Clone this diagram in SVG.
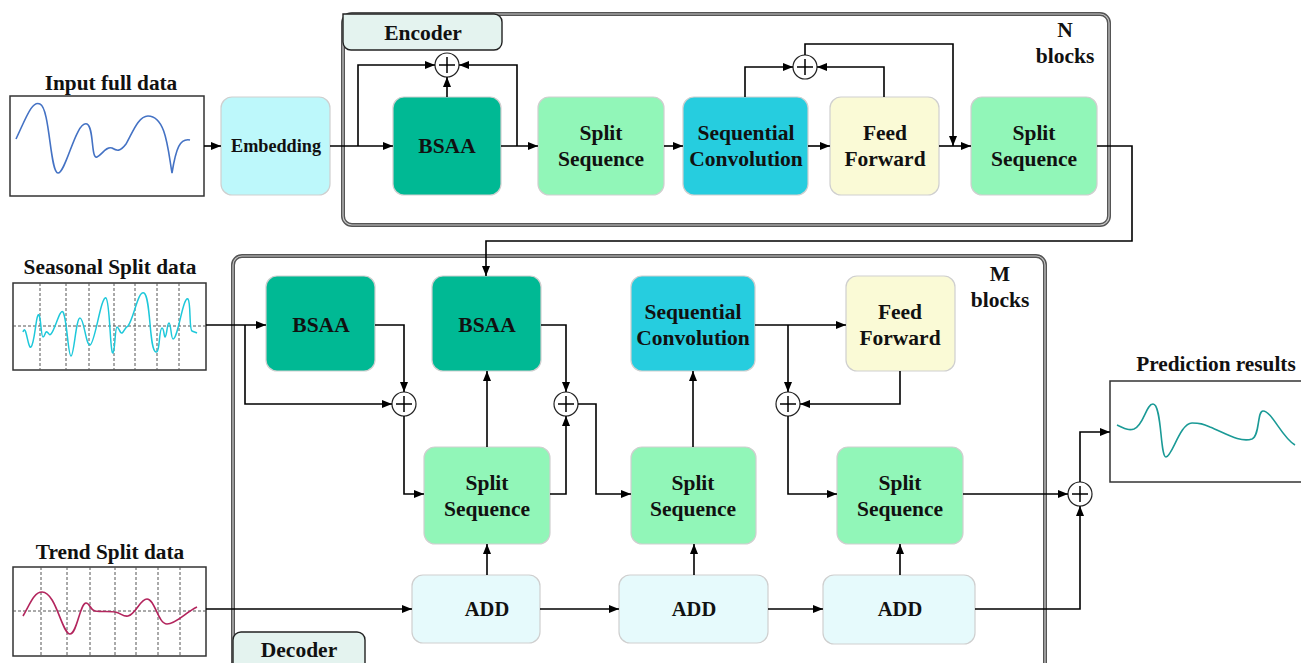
<svg xmlns="http://www.w3.org/2000/svg" width="1301" height="663" viewBox="0 0 1301 663">
<defs>
<marker id="ah" markerWidth="10" markerHeight="8" refX="10" refY="4" orient="auto" markerUnits="userSpaceOnUse">
<path d="M0,0 L10,4 L0,8 Z" fill="#000"/>
</marker>
<style>
.t{font-size:21.5px}
.ti{font-size:21.3px}
.ad{font-size:20.5px}
.node{stroke:#cfcfcf;stroke-width:1.2}
.bsaa{fill:#00b994}
.split{fill:#91f6b8}
.conv{fill:#26cddf}
.ff{fill:#fafad6}
.add{fill:#e6fafc}
.emb{fill:#bdf8fb}
.a{fill:none;stroke:#000;stroke-width:1.6;marker-end:url(#ah)}
.plus{fill:#fff;stroke:#222;stroke-width:1.2}
.pl{stroke:#000;stroke-width:1.5}
.frame{fill:none;stroke:#555;stroke-width:4}
.frame2{fill:none;stroke:#c8c8c8;stroke-width:1.2}
.box{fill:#fff;stroke:#333;stroke-width:1.5}
.dash{stroke:#555;stroke-width:1;stroke-dasharray:3,2}
</style>
</defs>

<g font-family="'Liberation Serif', 'Times New Roman', serif" font-weight="bold" text-anchor="middle" fill="#111">
<!-- frames -->
<g id="encoder-frame">
<rect class="frame" x="343" y="14" width="766" height="211" rx="9"/>
<rect class="frame2" x="343" y="14" width="766" height="211" rx="9"/>
<path d="M343,14 H494 a8,8 0 0 1 8,8 V42 a8,8 0 0 1 -8,8 H351 a8,8 0 0 1 -8,-8 Z" fill="#e4f3ef" stroke="#222" stroke-width="1.4"/>
<text class="t" x="423" y="40">Encoder</text>
<text class="t" x="1065" y="37">N</text>
<text class="t" x="1065" y="63">blocks</text>
</g>
<g id="decoder-frame">
<rect class="frame" x="233" y="256" width="812" height="430" rx="9"/>
<rect class="frame2" x="233" y="256" width="812" height="430" rx="9"/>
<path d="M233,640 a8,8 0 0 1 8,-8 H357 a8,8 0 0 1 8,8 V670 H233 Z" fill="#e4f3ef" stroke="#222" stroke-width="1.4"/>
<text class="t" x="299" y="657">Decoder</text>
<text class="t" x="1000" y="281">M</text>
<text class="t" x="1000" y="307">blocks</text>
</g>

<!-- data charts -->
<g id="input-data">
<text class="ti" x="111" y="90">Input full data</text>
<rect class="box" x="10" y="96" width="194" height="100"/>
<path d="M16,139 C26,118 32,100 40,104 C50,108 50,173 58,173 C66,173 76,120 87,124 C94,127 91,160 97,157 C102,155 106,146 112,148 C117,151 120,152 126,144 C132,134 138,116 148,116 C166,116 168,150 172,173 C176,148 180,138 190,140" fill="none" stroke="#4472c4" stroke-width="1.6"/>
</g>

<g id="seasonal-data">
<text class="ti" x="110" y="274">Seasonal Split data</text>
<rect class="box" x="13" y="283" width="193" height="87"/>
<g class="dash">
<line x1="40" y1="283" x2="40" y2="370"/><line x1="66" y1="283" x2="66" y2="370"/><line x1="89" y1="283" x2="89" y2="370"/>
<line x1="114" y1="283" x2="114" y2="370"/><line x1="135" y1="283" x2="135" y2="370"/><line x1="157" y1="283" x2="157" y2="370"/>
<line x1="179" y1="283" x2="179" y2="370"/><line x1="13" y1="326" x2="206" y2="326"/>
</g>
<path d="M23,332 C26,322 28,350 31,347 C35,343 36,312 39,315 C41,318 41,337 43,337 C45,337 45,331 47,332 C49,333 49,336 51,334 C55,330 60,308 63,312 C67,318 68,356 71,356 C74,356 76,318 80,318 C84,318 86,346 90,345 C95,344 101,295 106,298 C110,301 110,354 113,353 C115,352 115,327 117,327 C119,327 120,334 122,333 C124,332 125,327 128,326 C134,318 138,290 144,293 C151,297 149,351 156,352 C160,353 159,328 162,328 C164,328 164,337 165,337 C167,336 167,323 169,323 C171,323 171,339 173,339 C178,339 183,296 188,299 C191,302 189,330 192,331 C194,332 195,332 197,333" fill="none" stroke="#1ec8da" stroke-width="1.5"/>
</g>

<g id="trend-data">
<text class="ti" x="110" y="559">Trend Split data</text>
<rect class="box" x="13" y="567" width="193" height="89"/>
<g class="dash">
<line x1="41" y1="567" x2="41" y2="656"/><line x1="67" y1="567" x2="67" y2="656"/><line x1="90" y1="567" x2="90" y2="656"/>
<line x1="115" y1="567" x2="115" y2="656"/><line x1="136" y1="567" x2="136" y2="656"/><line x1="158" y1="567" x2="158" y2="656"/>
<line x1="180" y1="567" x2="180" y2="656"/><line x1="13" y1="611" x2="206" y2="611"/>
</g>
<path d="M23,616 C30,604 34,592 42,592 C56,592 62,634 70,634 C77,634 80,603 86,603 C90,603 90,610 95,611 C102,612 110,611 115,612 C121,613 123,617 128,616 C136,614 140,599 147,599 C155,599 158,624 167,624 C176,624 186,612 197,607" fill="none" stroke="#b3255d" stroke-width="1.6"/>
</g>

<g id="prediction">
<text class="ti" x="1216" y="371">Prediction results</text>
<rect class="box" x="1110" y="381" width="200" height="101"/>
<path d="M1117,425 C1124,428 1128,431 1134,429 C1144,425 1146,404 1153,404 C1162,404 1160,457 1166,457 C1172,457 1180,423 1192,423 C1200,423 1203,424 1210,427 C1225,433 1240,443 1252,439 C1260,436 1257,411 1263,411 C1272,411 1282,438 1295,445" fill="none" stroke="#1a9a96" stroke-width="1.6"/>
</g>

<!-- encoder nodes -->
<g id="embedding"><rect class="node emb" x="221" y="97" width="109" height="98" rx="11"/><text x="276" y="152" font-size="18.2">Embedding</text></g>
<g id="enc-bsaa"><rect class="node bsaa" x="393" y="97" width="108" height="98" rx="11"/><text class="t" x="447" y="153">BSAA</text></g>
<g id="enc-split1"><rect class="node split" x="538" y="97" width="126" height="98" rx="11"/><text class="t" x="601" y="140">Split</text><text class="t" x="601" y="166">Sequence</text></g>
<g id="enc-conv"><rect class="node conv" x="683" y="97" width="125" height="98" rx="11"/><text class="t" x="746" y="140">Sequential</text><text class="t" x="746" y="166">Convolution</text></g>
<g id="enc-ff"><rect class="node ff" x="830" y="97" width="109" height="98" rx="11"/><text class="t" x="885" y="140">Feed</text><text class="t" x="885" y="166">Forward</text></g>
<g id="enc-split2"><rect class="node split" x="971" y="97" width="126" height="98" rx="11"/><text class="t" x="1034" y="140">Split</text><text class="t" x="1034" y="166">Sequence</text></g>
<g id="enc-plus1"><circle class="plus" cx="447" cy="65" r="12"/><path class="pl" d="M439,65 H455 M447,57 V73"/></g>
<g id="enc-plus2"><circle class="plus" cx="805" cy="67" r="12"/><path class="pl" d="M797,67 H813 M805,59 V75"/></g>

<!-- decoder nodes -->
<g id="dec-bsaa1"><rect class="node bsaa" x="266" y="276" width="109" height="95" rx="11"/><text class="t" x="321" y="332">BSAA</text></g>
<g id="dec-bsaa2"><rect class="node bsaa" x="432" y="276" width="109" height="95" rx="11"/><text class="t" x="487" y="332">BSAA</text></g>
<g id="dec-conv"><rect class="node conv" x="631" y="276" width="124" height="95" rx="11"/><text class="t" x="693" y="319">Sequential</text><text class="t" x="693" y="345">Convolution</text></g>
<g id="dec-ff"><rect class="node ff" x="846" y="276" width="109" height="95" rx="11"/><text class="t" x="900" y="319">Feed</text><text class="t" x="900" y="345">Forward</text></g>
<g id="dec-split1"><rect class="node split" x="424" y="447" width="126" height="97" rx="11"/><text class="t" x="487" y="490">Split</text><text class="t" x="487" y="516">Sequence</text></g>
<g id="dec-split2"><rect class="node split" x="631" y="447" width="125" height="97" rx="11"/><text class="t" x="693" y="490">Split</text><text class="t" x="693" y="516">Sequence</text></g>
<g id="dec-split3"><rect class="node split" x="837" y="447" width="126" height="97" rx="11"/><text class="t" x="900" y="490">Split</text><text class="t" x="900" y="516">Sequence</text></g>
<g id="dec-add1"><rect class="node add" x="412" y="575" width="128" height="68" rx="11"/><text class="ad" x="487" y="616">ADD</text></g>
<g id="dec-add2"><rect class="node add" x="619" y="575" width="149" height="68" rx="11"/><text class="ad" x="694" y="616">ADD</text></g>
<g id="dec-add3"><rect class="node add" x="823" y="575" width="152" height="69" rx="11"/><text class="ad" x="900" y="616">ADD</text></g>
<g id="dec-plus1"><circle class="plus" cx="404" cy="404" r="12"/><path class="pl" d="M396,404 H412 M404,396 V412"/></g>
<g id="dec-plus2"><circle class="plus" cx="566" cy="404" r="12"/><path class="pl" d="M558,404 H574 M566,396 V412"/></g>
<g id="dec-plus3"><circle class="plus" cx="788" cy="404" r="12"/><path class="pl" d="M780,404 H796 M788,396 V412"/></g>
<g id="out-plus"><circle class="plus" cx="1080" cy="494" r="12"/><path class="pl" d="M1072,494 H1088 M1080,486 V502"/></g>
</g>

<!-- connectors -->
<g id="connectors">
<path class="a" d="M204,146 H221"/>
<path class="a" d="M330,146 H393"/>
<path class="a" d="M358,146 V65 H435"/>
<path class="a" d="M447,97 V77"/>
<path class="a" d="M501,146 H538"/>
<path class="a" d="M517,146 V65 H459"/>
<path class="a" d="M664,146 H683"/>
<path class="a" d="M808,146 H830"/>
<path class="a" d="M745,97 V67 H793"/>
<path class="a" d="M884,97 V67 H817"/>
<path class="a" d="M805,55 V44 H953 V146"/>
<path class="a" d="M939,146 H971"/>
<path class="a" d="M1097,146 H1132 V241 H486 V276"/>

<path class="a" d="M206,325 H266"/>
<path class="a" d="M245,325 V404 H392"/>
<path class="a" d="M375,325 H404 V392"/>
<path class="a" d="M404,416 V494 H424"/>
<path class="a" d="M487,447 V371"/>
<path class="a" d="M541,325 H566 V392"/>
<path class="a" d="M550,494 H566 V416"/>
<path class="a" d="M578,404 H596 V494 H631"/>
<path class="a" d="M693,447 V371"/>
<path class="a" d="M755,325 H846"/>
<path class="a" d="M788,325 V392"/>
<path class="a" d="M900,371 V404 H800"/>
<path class="a" d="M788,416 V494 H837"/>
<path class="a" d="M963,494 H1068"/>
<path class="a" d="M1080,482 V432 H1110"/>
<path class="a" d="M975,609 H1080 V506"/>
<path class="a" d="M206,609 H412"/>
<path class="a" d="M540,609 H619"/>
<path class="a" d="M768,609 H823"/>
<path class="a" d="M487,575 V544"/>
<path class="a" d="M694,575 V544"/>
<path class="a" d="M900,575 V544"/>
</g>
</svg>
